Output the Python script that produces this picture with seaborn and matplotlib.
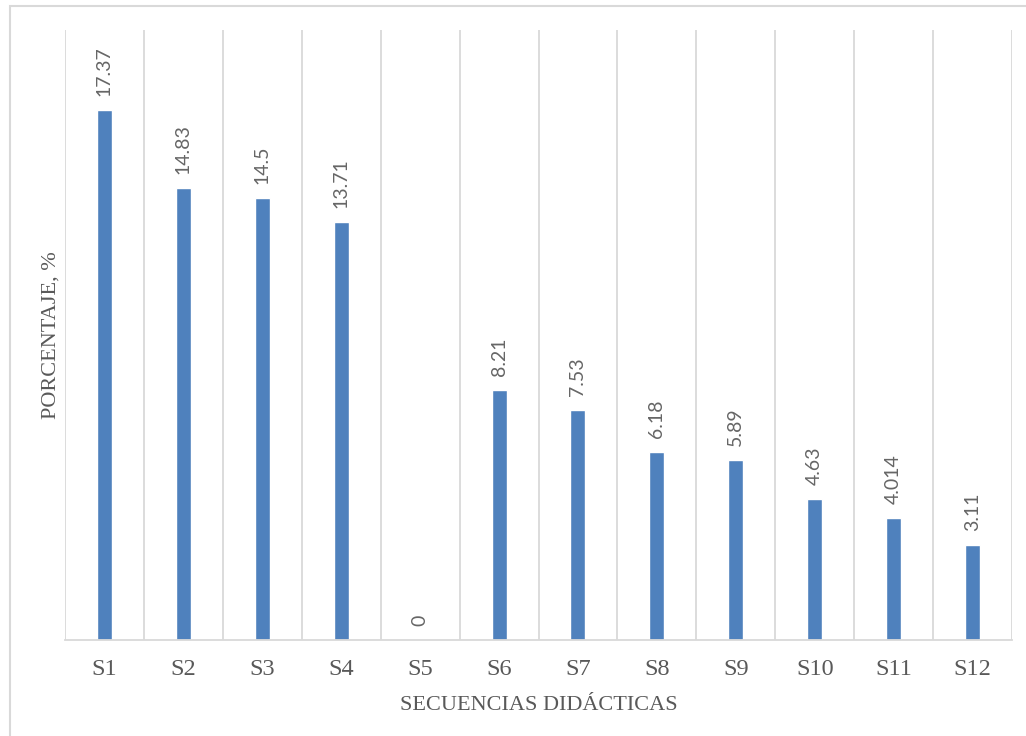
import matplotlib
matplotlib.use("Agg")
import matplotlib.pyplot as plt
from matplotlib.patches import Rectangle
import seaborn as sns
import numpy as np

# Porcentaje por secuencia didáctica
secuencias = ["S1", "S2", "S3", "S4", "S5", "S6", "S7", "S8", "S9", "S10", "S11", "S12"]
porcentajes = [17.37, 14.83, 14.5, 13.71, 0, 8.21, 7.53, 6.18, 5.89, 4.63, 4.014, 3.11]

sns.set_theme(style="white")
plt.rcParams["font.family"] = ["Liberation Serif", "DejaVu Serif"]

bar_color = "#4F81BD"
grid_color = "#D9D9D9"
text_color = "#595959"

fig = plt.figure(figsize=(10.26, 7.36), dpi=100)
ax = fig.add_axes([65 / 1026, 96 / 736, (1012 - 65) / 1026, (640 - 30) / 736])

sns.barplot(x=secuencias, y=porcentajes, color=bar_color, width=0.19,
            saturation=1, ax=ax)

ax.set_xlim(-0.5, len(secuencias) - 0.5)
ax.set_ylim(0, 20)

# category separators
ax.set_xticks(np.arange(-0.5, len(secuencias)), minor=True)
ax.grid(which="minor", axis="x", color=grid_color, linewidth=1.3)
ax.grid(which="major", visible=False)
ax.set_axisbelow(True)

for side in ["left", "right", "top"]:
    ax.spines[side].set_visible(False)
ax.spines["bottom"].set_color(grid_color)
ax.spines["bottom"].set_linewidth(1.3)

ax.set_yticks([])
ax.tick_params(axis="x", which="both", length=0, pad=14,
               labelsize=17.5, labelcolor=text_color)

ax.set_xlabel("SECUENCIAS DIDÁCTICAS", fontsize=16, color=text_color, labelpad=11)
ax.set_ylabel("PORCENTAJE, %", fontsize=16, color=text_color, labelpad=3)

# rotated value labels above each bar
for i, v in enumerate(porcentajes):
    ax.annotate(f"{v:g}", (i, v), xytext=(0, 10), textcoords="offset points",
                rotation=90, ha="center", va="bottom", fontsize=14,
                color="#666666", family=["Lato", "DejaVu Sans"])

# outer frame
fig.patches.append(Rectangle((10 / 1026, -0.05), 1.2, 1.05 - 6 / 736,
                             transform=fig.transFigure, fill=False,
                             edgecolor=grid_color, linewidth=1.5))

fig.savefig("out.png", dpi=100)
